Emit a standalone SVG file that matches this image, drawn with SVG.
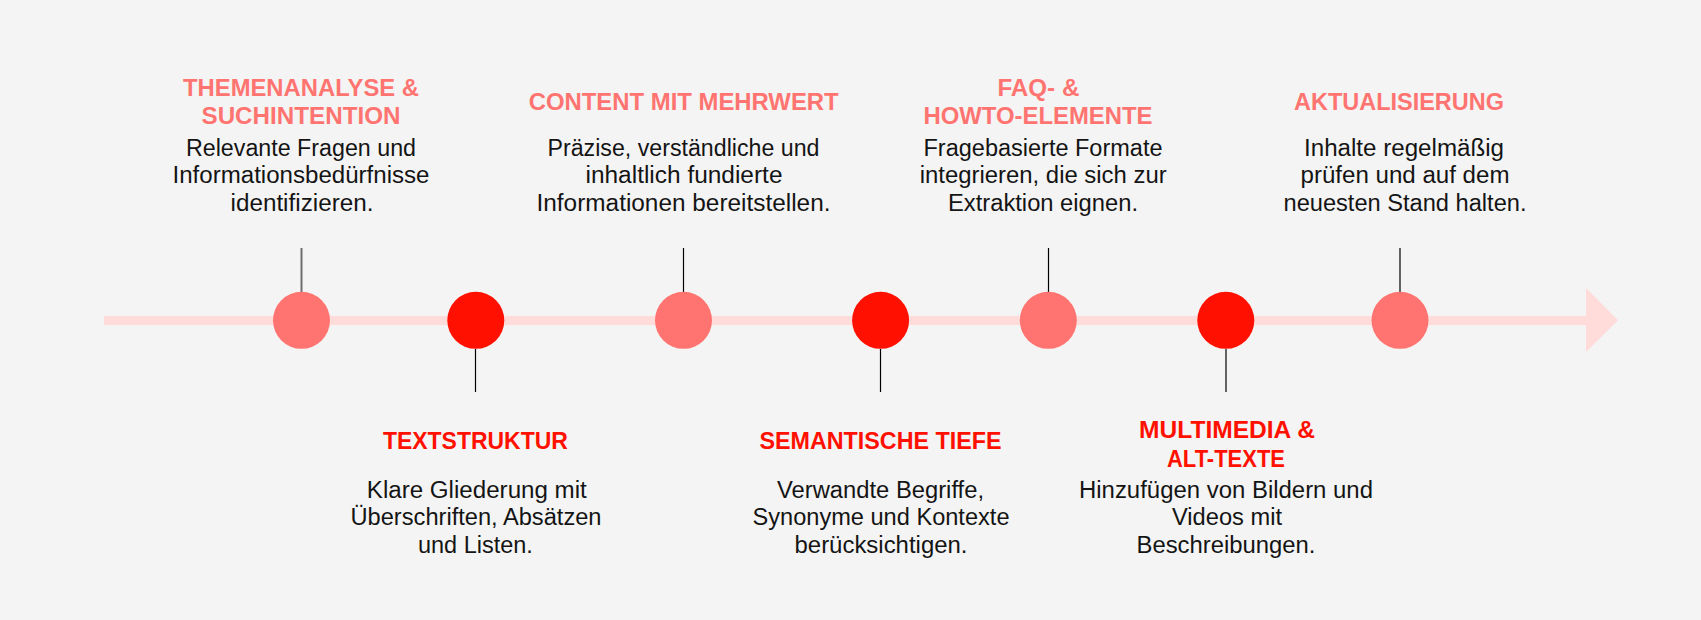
<svg xmlns="http://www.w3.org/2000/svg" width="1701" height="620" viewBox="0 0 1701 620">
<style>
.t{font-family:"Liberation Sans",Arial,sans-serif;font-weight:bold;font-size:23px;text-anchor:middle}
.lt{fill:#FF7470}
.dk{fill:#FF1000}
.b{font-family:"Liberation Sans",Arial,sans-serif;font-size:23px;text-anchor:middle;fill:#141414}
.cl{fill:#FF7470}
.cd{fill:#FF1000}
.ln{stroke:#000;stroke-width:1.2}
</style>
<rect x="0" y="0" width="1701" height="620" fill="#F4F4F4"/>
<g id="timeline">
<rect x="104" y="316" width="1483" height="9" fill="#FFDCDA"/>
<polygon points="1586,288 1618,320.3 1586,352" fill="#FFDCDA"/>
</g>
<g id="connectors">
<line x1="301.5" y1="248" x2="301.5" y2="292" stroke="#6E6E6E" stroke-width="2"/>
<line class="ln" x1="683.5" y1="248" x2="683.5" y2="292"/>
<line class="ln" x1="1048.5" y1="248" x2="1048.5" y2="292"/>
<line class="ln" x1="1400" y1="248" x2="1400" y2="292"/>
<line class="ln" x1="475.5" y1="349" x2="475.5" y2="392"/>
<line class="ln" x1="880.5" y1="349" x2="880.5" y2="392"/>
<line class="ln" x1="1226" y1="349" x2="1226" y2="392"/>
</g>
<g id="node1">
<circle class="cl" cx="301.5" cy="320.3" r="28.5"/>
<text class="t lt" x="301" y="96" textLength="236" lengthAdjust="spacingAndGlyphs">THEMENANALYSE &amp;</text>
<text class="t lt" x="301" y="124" textLength="199" lengthAdjust="spacingAndGlyphs">SUCHINTENTION</text>
<text class="b" x="301" y="156" textLength="230" lengthAdjust="spacingAndGlyphs">Relevante Fragen und</text>
<text class="b" x="301" y="183.3" textLength="257" lengthAdjust="spacingAndGlyphs">Informationsbedürfnisse</text>
<text class="b" x="302" y="210.7" textLength="143" lengthAdjust="spacingAndGlyphs">identifizieren.</text>
</g>
<g id="node2">
<circle class="cd" cx="475.8" cy="320.3" r="28.5"/>
<text class="t dk" x="475.4" y="449" textLength="185" lengthAdjust="spacingAndGlyphs">TEXTSTRUKTUR</text>
<text class="b" x="476.8" y="497.7" textLength="220" lengthAdjust="spacingAndGlyphs">Klare Gliederung mit</text>
<text class="b" x="476" y="525" textLength="251" lengthAdjust="spacingAndGlyphs">Überschriften, Absätzen</text>
<text class="b" x="475.4" y="552.7" textLength="115" lengthAdjust="spacingAndGlyphs">und Listen.</text>
</g>
<g id="node3">
<circle class="cl" cx="683.5" cy="320.3" r="28.5"/>
<text class="t lt" x="683.7" y="109.5" textLength="310" lengthAdjust="spacingAndGlyphs">CONTENT MIT MEHRWERT</text>
<text class="b" x="683.5" y="156" textLength="272" lengthAdjust="spacingAndGlyphs">Präzise, verständliche und</text>
<text class="b" x="684" y="183.3" textLength="197" lengthAdjust="spacingAndGlyphs">inhaltlich fundierte</text>
<text class="b" x="683.5" y="210.7" textLength="294" lengthAdjust="spacingAndGlyphs">Informationen bereitstellen.</text>
</g>
<g id="node4">
<circle class="cd" cx="880.6" cy="320.3" r="28.5"/>
<text class="t dk" x="880.5" y="449" textLength="242" lengthAdjust="spacingAndGlyphs">SEMANTISCHE TIEFE</text>
<text class="b" x="880.5" y="497.7" textLength="207" lengthAdjust="spacingAndGlyphs">Verwandte Begriffe,</text>
<text class="b" x="881" y="525" textLength="257" lengthAdjust="spacingAndGlyphs">Synonyme und Kontexte</text>
<text class="b" x="881" y="552.7" textLength="173" lengthAdjust="spacingAndGlyphs">berücksichtigen.</text>
</g>
<g id="node5">
<circle class="cl" cx="1048.3" cy="320.3" r="28.5"/>
<text class="t lt" x="1038.4" y="96" textLength="82" lengthAdjust="spacingAndGlyphs">FAQ- &amp;</text>
<text class="t lt" x="1038" y="124" textLength="229" lengthAdjust="spacingAndGlyphs">HOWTO-ELEMENTE</text>
<text class="b" x="1043" y="156" textLength="239" lengthAdjust="spacingAndGlyphs">Fragebasierte Formate</text>
<text class="b" x="1043.2" y="183.3" textLength="247" lengthAdjust="spacingAndGlyphs">integrieren, die sich zur</text>
<text class="b" x="1043" y="210.7" textLength="190" lengthAdjust="spacingAndGlyphs">Extraktion eignen.</text>
</g>
<g id="node6">
<circle class="cd" cx="1225.8" cy="320.3" r="28.5"/>
<text class="t dk" x="1227" y="438.3" textLength="176" lengthAdjust="spacingAndGlyphs">MULTIMEDIA &amp;</text>
<text class="t dk" x="1226" y="467.3" textLength="118" lengthAdjust="spacingAndGlyphs">ALT-TEXTE</text>
<text class="b" x="1226" y="497.7" textLength="294" lengthAdjust="spacingAndGlyphs">Hinzufügen von Bildern und</text>
<text class="b" x="1227" y="525" textLength="110" lengthAdjust="spacingAndGlyphs">Videos mit</text>
<text class="b" x="1226" y="552.7" textLength="179" lengthAdjust="spacingAndGlyphs">Beschreibungen.</text>
</g>
<g id="node7">
<circle class="cl" cx="1400" cy="320.3" r="28.5"/>
<text class="t lt" x="1399" y="109.5" textLength="210" lengthAdjust="spacingAndGlyphs">AKTUALISIERUNG</text>
<text class="b" x="1404" y="156" textLength="200" lengthAdjust="spacingAndGlyphs">Inhalte regelmäßig</text>
<text class="b" x="1405" y="183.3" textLength="209" lengthAdjust="spacingAndGlyphs">prüfen und auf dem</text>
<text class="b" x="1405" y="210.7" textLength="243" lengthAdjust="spacingAndGlyphs">neuesten Stand halten.</text>
</g>
</svg>
